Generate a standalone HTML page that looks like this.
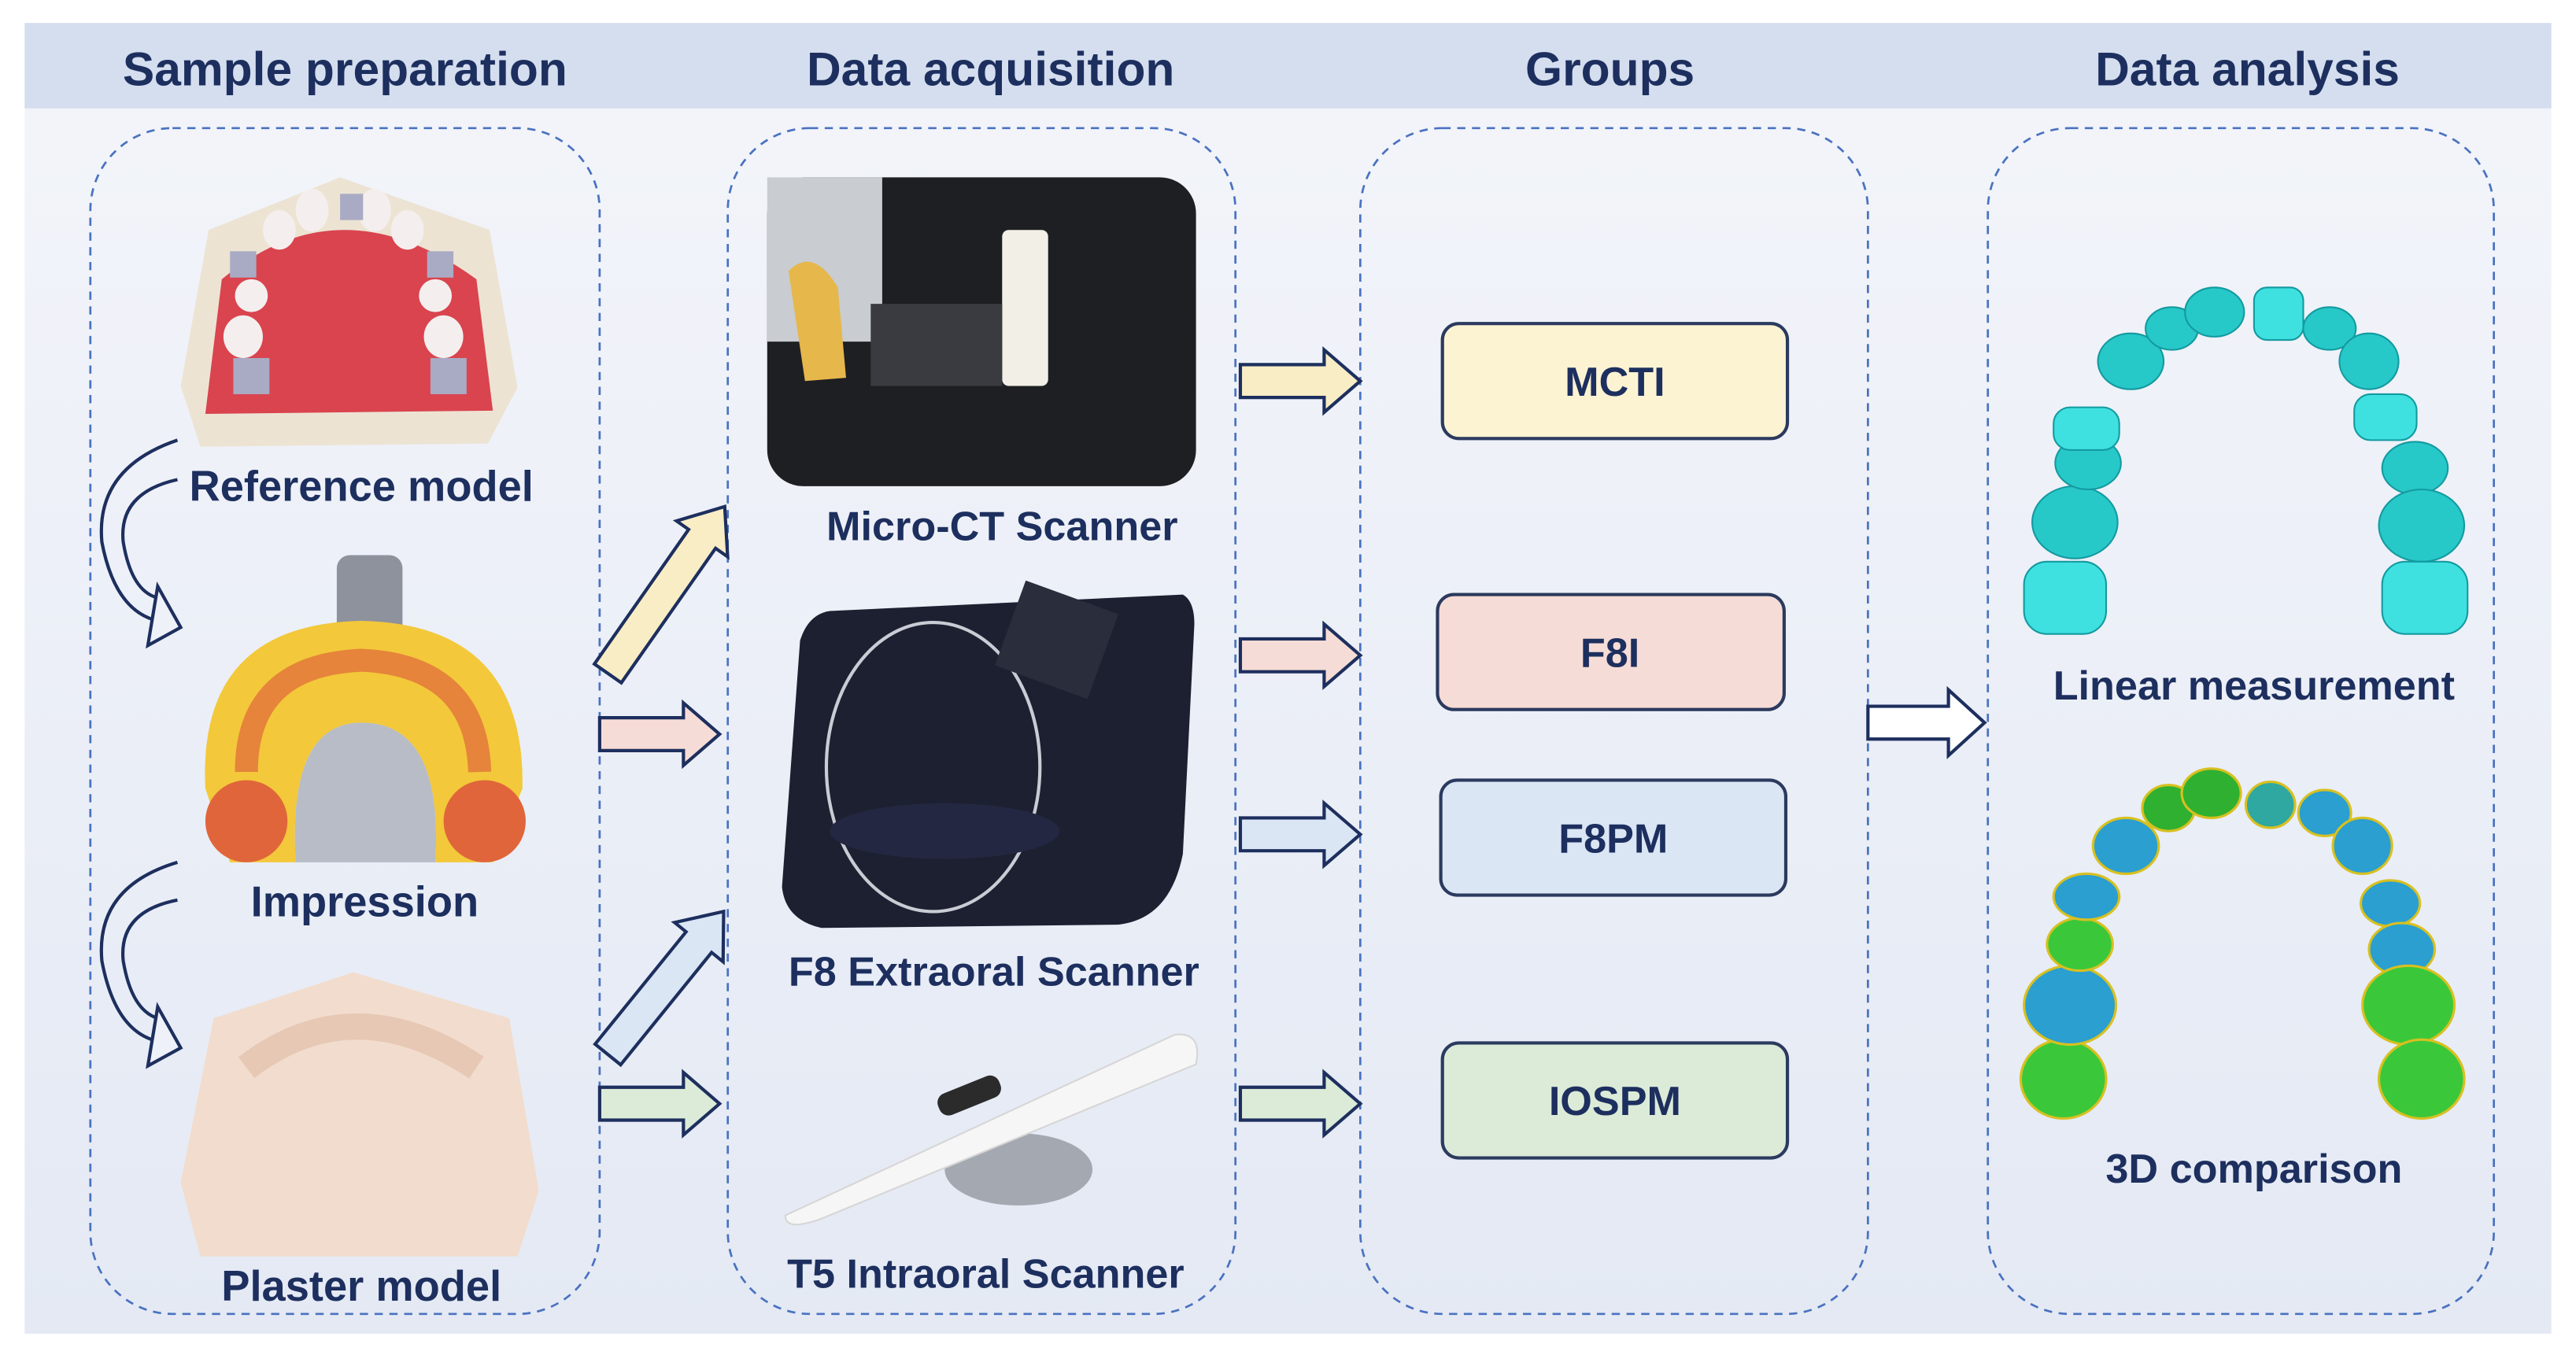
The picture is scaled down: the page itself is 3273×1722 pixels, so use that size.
<!DOCTYPE html>
<html><head><meta charset="utf-8"><style>
html,body{margin:0;padding:0;background:#fff;}
svg{display:block;}
text{font-family:"Liberation Sans",Arial,sans-serif;font-weight:bold;fill:#1d2f5e;}
</style></head><body>
<svg width="3273" height="1722" viewBox="0 0 1568 825" preserveAspectRatio="none" xmlns="http://www.w3.org/2000/svg">
<defs>
<linearGradient id="bg" x1="0" y1="0" x2="0" y2="1"><stop offset="0" stop-color="#f3f5fa"/><stop offset="1" stop-color="#e4e9f4"/></linearGradient>
<g id="harr"><polygon points="0,-10 51,-10 51,-19 73,0 51,19 51,10 0,10" stroke="#1d2f5e" stroke-width="2"/></g>
<g id="darr"><polygon points="0,-10 100,-10 100,-19 124,0 100,19 100,10 0,10" stroke="#1d2f5e" stroke-width="2"/></g>
<g id="darr2"><polygon points="0,-10 88,-10 88,-19 112,0 88,19 88,10 0,10" stroke="#1d2f5e" stroke-width="2"/></g>
</defs>
<rect x="0" y="0" width="1568" height="825" fill="#fff"/>
<rect x="15" y="14" width="1538" height="798" fill="url(#bg)"/>
<rect x="15" y="14" width="1538" height="52" fill="#d5deef"/>
<text x="210" y="52" font-size="29" text-anchor="middle">Sample preparation</text>
<text x="603" y="52" font-size="29" text-anchor="middle">Data acquisition</text>
<text x="980" y="52" font-size="29" text-anchor="middle">Groups</text>
<text x="1368" y="52" font-size="29" text-anchor="middle">Data analysis</text>
<g fill="none" stroke="#4a72c0" stroke-width="1.3" stroke-dasharray="5,4">
<rect x="55" y="78" width="310" height="722" rx="50"/>
<rect x="443" y="78" width="309" height="722" rx="50"/>
<rect x="828" y="78" width="309" height="722" rx="50"/>
<rect x="1210" y="78" width="308" height="722" rx="50"/>
</g>
<!-- reference model -->
<polygon points="207,108 298,140 315,236 297,270 122,272 110,235 127,140" fill="#ede3d3"/>
<path d="M135,170 Q207,110 290,170 L300,250 L125,252 Z" fill="#d9444f"/>
<g fill="#f4efee">
<ellipse cx="190" cy="128" rx="10" ry="13"/><ellipse cx="228" cy="128" rx="10" ry="13"/>
<ellipse cx="170" cy="140" rx="10" ry="12"/><ellipse cx="248" cy="140" rx="10" ry="12"/>
<ellipse cx="153" cy="180" rx="10" ry="10"/><ellipse cx="265" cy="180" rx="10" ry="10"/>
<ellipse cx="148" cy="205" rx="12" ry="13"/><ellipse cx="270" cy="205" rx="12" ry="13"/>
</g>
<g fill="#a9abc4"><rect x="142" y="218" width="22" height="22"/><rect x="262" y="218" width="22" height="22"/><rect x="207" y="118" width="14" height="16"/><rect x="140" y="153" width="16" height="16"/><rect x="260" y="153" width="16" height="16"/></g>
<!-- impression -->
<rect x="205" y="338" width="40" height="50" rx="8" fill="#8e929c"/>
<path d="M125,480 Q120,380 220,378 Q320,380 318,480 L300,525 L265,525 Q270,440 220,440 Q175,440 180,525 L140,525 Z" fill="#f3c83a"/>
<path d="M180,525 Q175,440 220,440 Q270,440 265,525 Z" fill="#b8bcc6"/>
<ellipse cx="150" cy="500" rx="25" ry="25" fill="#e0653a"/><ellipse cx="295" cy="500" rx="25" ry="25" fill="#e0653a"/>
<path d="M150,470 Q150,405 220,402 Q290,405 292,470" fill="none" stroke="#e5843a" stroke-width="14"/>
<!-- plaster -->
<polygon points="215,592 310,620 328,725 315,765 122,765 110,720 130,620" fill="#f2dccd"/>
<path d="M150,650 Q215,600 290,650" fill="none" stroke="#e6c8b4" stroke-width="16"/>
<!-- curved arrows left -->
<g fill="none" stroke="#1d2f5e" stroke-width="2">
<path d="M108,268 Q58,285 62,330 Q70,372 96,378"/>
<path d="M108,292 Q72,300 75,330 Q80,360 96,364"/>
<polygon points="96,357 110,382 90,393" fill="#eef1f8"/>
<path d="M108,525 Q58,540 62,585 Q70,628 96,634"/>
<path d="M108,548 Q72,555 75,585 Q80,615 96,620"/>
<polygon points="96,613 110,638 90,649" fill="#eef1f8"/>
</g>
<text x="220" y="305" font-size="26" text-anchor="middle">Reference model</text>
<text x="222" y="558" font-size="26" text-anchor="middle">Impression</text>
<text x="220" y="792" font-size="26" text-anchor="middle">Plaster model</text>
<!-- left arrows -->
<use href="#darr" transform="translate(370,410) rotate(-55)" fill="#f9edc6"/>
<use href="#harr" transform="translate(365,447)" fill="#f6dcd6"/>
<use href="#darr2" transform="translate(370,642) rotate(-51)" fill="#dbe6f5"/>
<use href="#harr" transform="translate(365,672)" fill="#dcebd8"/>
<!-- micro-CT -->
<rect x="467" y="108" width="261" height="188" rx="22" fill="#1e1f22"/>
<rect x="467" y="108" width="70" height="100" fill="#c9ccd0"/>
<rect x="610" y="140" width="28" height="95" rx="4" fill="#f1efe6"/>
<rect x="530" y="185" width="80" height="50" fill="#3a3b40"/>
<path d="M480,165 Q495,150 510,175 L515,230 L490,232 Z" fill="#e6b74a"/>
<text x="610" y="329" font-size="25" text-anchor="middle">Micro-CT Scanner</text>
<!-- F8 -->
<path d="M505,372 L720,362 Q727,366 727,380 L720,520 Q712,560 680,563 L500,565 Q478,560 476,540 L487,390 Q492,374 505,372 Z" fill="#1d2030"/>
<ellipse cx="568" cy="467" rx="65" ry="88" fill="none" stroke="#c9ccd4" stroke-width="2"/>
<rect x="613" y="362" width="60" height="55" fill="#2a2d3c" transform="rotate(20 643 390)"/>
<ellipse cx="575" cy="506" rx="70" ry="17" fill="#232741"/>
<text x="605" y="600" font-size="25" text-anchor="middle">F8 Extraoral Scanner</text>
<!-- T5 -->
<ellipse cx="620" cy="712" rx="45" ry="22" fill="#a4a8b0"/>
<path d="M478,740 L715,630 Q732,628 728,648 L500,742 Q478,750 478,740 Z" fill="#f6f6f6" stroke="#d6d6d6"/>
<rect x="570" y="660" width="40" height="14" rx="6" fill="#2b2b2b" transform="rotate(-22 590 667)"/>
<text x="600" y="784" font-size="25" text-anchor="middle">T5 Intraoral Scanner</text>
<!-- group arrows -->
<use href="#harr" transform="translate(755,232)" fill="#f9edc6"/>
<use href="#harr" transform="translate(755,399)" fill="#f6dcd6"/>
<use href="#harr" transform="translate(755,508)" fill="#dbe6f5"/>
<use href="#harr" transform="translate(755,672)" fill="#dcebd8"/>
<!-- groups -->
<g stroke="#2b3a5e" stroke-width="2">
<rect x="878" y="197" width="210" height="70" rx="10" fill="#fcf3d2"/>
<rect x="875" y="362" width="211" height="70" rx="10" fill="#f6dcd6"/>
<rect x="877" y="475" width="210" height="70" rx="10" fill="#dbe6f5"/>
<rect x="878" y="635" width="210" height="70" rx="10" fill="#dcebd8"/>
</g>
<text x="983" y="241" font-size="25" text-anchor="middle">MCTI</text>
<text x="980" y="406" font-size="25" text-anchor="middle">F8I</text>
<text x="982" y="519" font-size="25" text-anchor="middle">F8PM</text>
<text x="983" y="679" font-size="25" text-anchor="middle">IOSPM</text>
<!-- big arrow -->
<polygon points="1137,430 1186,430 1186,420 1208,440 1186,460 1186,450 1137,450" fill="#fff" stroke="#1d2f5e" stroke-width="2"/>
<!-- cyan arch -->
<g fill="#27c8c8" stroke="#139aa0" stroke-width="1">
<rect x="1232" y="342" width="50" height="44" rx="14" fill="#3fe0e0"/>
<ellipse cx="1263" cy="318" rx="26" ry="22"/>
<ellipse cx="1271" cy="282" rx="20" ry="16"/>
<rect x="1250" y="248" width="40" height="26" rx="10" fill="#3fe0e0"/>
<ellipse cx="1297" cy="220" rx="20" ry="17"/>
<ellipse cx="1322" cy="200" rx="16" ry="13"/>
<ellipse cx="1348" cy="190" rx="18" ry="15"/>
<rect x="1372" y="175" width="30" height="32" rx="8" fill="#3fe0e0"/>
<ellipse cx="1418" cy="200" rx="16" ry="13"/>
<ellipse cx="1442" cy="220" rx="18" ry="17"/>
<rect x="1433" y="240" width="38" height="28" rx="10" fill="#3fe0e0"/>
<ellipse cx="1470" cy="285" rx="20" ry="16"/>
<ellipse cx="1474" cy="320" rx="26" ry="22"/>
<rect x="1450" y="342" width="52" height="44" rx="14" fill="#3fe0e0"/>
</g>
<text x="1372" y="426" font-size="25" text-anchor="middle">Linear measurement</text>
<!-- colored arch -->
<g stroke="#d8c020" stroke-width="1.5">
<ellipse cx="1256" cy="657" rx="26" ry="24" fill="#3ac83a"/>
<ellipse cx="1260" cy="612" rx="28" ry="24" fill="#2a9fd0"/>
<ellipse cx="1266" cy="575" rx="20" ry="16" fill="#3ac83a"/>
<ellipse cx="1270" cy="546" rx="20" ry="14" fill="#2a9fd0"/>
<ellipse cx="1294" cy="515" rx="20" ry="17" fill="#2a9fd0"/>
<ellipse cx="1320" cy="492" rx="16" ry="14" fill="#30b030"/>
<ellipse cx="1346" cy="483" rx="18" ry="15" fill="#30b030"/>
<ellipse cx="1382" cy="490" rx="15" ry="14" fill="#2ea8a0"/>
<ellipse cx="1415" cy="495" rx="16" ry="14" fill="#2a9fd0"/>
<ellipse cx="1438" cy="515" rx="18" ry="17" fill="#2a9fd0"/>
<ellipse cx="1455" cy="550" rx="18" ry="14" fill="#2a9fd0"/>
<ellipse cx="1462" cy="578" rx="20" ry="16" fill="#2a9fd0"/>
<ellipse cx="1466" cy="612" rx="28" ry="24" fill="#3ac83a"/>
<ellipse cx="1474" cy="657" rx="26" ry="24" fill="#3ac83a"/>
</g>
<text x="1372" y="720" font-size="25" text-anchor="middle">3D comparison</text>
</svg>
</body></html>
